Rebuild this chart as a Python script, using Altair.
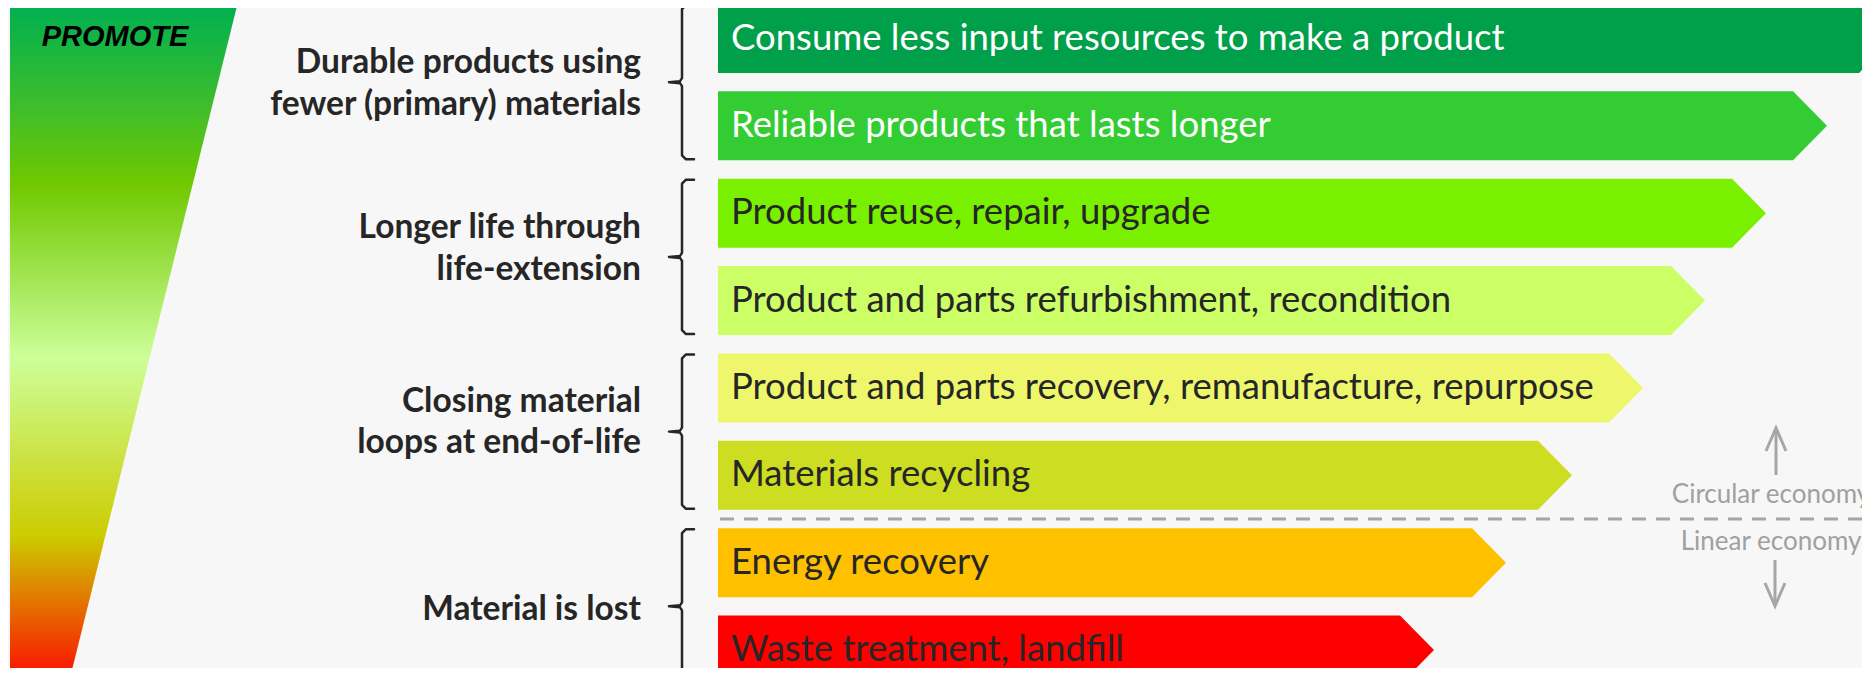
import altair as alt
import pandas as pd

# ---------------- data ----------------
categories = [
    "Consume less input resources to make a product",
    "Reliable products that lasts longer",
    "Product reuse, repair, upgrade",
    "Product and parts refurbishment, recondition",
    "Product and parts recovery, remanufacture, repurpose",
    "Materials recycling",
    "Energy recovery",
    "Waste treatment, landfill",
]
bar_lengths = [1141, 1075, 1014, 953, 891, 820, 754, 682]
bar_colors = ["#00A04A", "#33CC33", "#78F000", "#CCFF66",
              "#EEF76C", "#CCDD22", "#FFC000", "#FF0000"]
text_colors = ["#FFFFFF", "#FFFFFF", "#262626", "#262626",
               "#262626", "#262626", "#262626", "#262626"]

group_label_lines = [
    ["Durable products using", "fewer (primary) materials"],
    ["Longer life through", "life-extension"],
    ["Closing material", "loops at end-of-life"],
    ["Material is lost"],
]
group_rows = [(0, 1), (2, 3), (4, 5), (6, 7)]

economy_labels = ["Circular economy", "Linear economy"]
promote_label = "PROMOTE"

gradient_offsets = [0.0, 0.15, 0.26, 0.514, 0.775, 0.86, 1.0]
gradient_colors = ["#00B050", "#3FBE2A", "#70C800", "#CCFF99",
                   "#CCCC00", "#E07F00", "#FF0000"]

# ---------------- layout ----------------
W, H = 1854, 660
X_DOM = [8, 8 + W]
Y_DOM = [8, 8 + H]
BAR_X0 = 718
ROW0 = 38.5
PITCH = 87.36
BAR_H = 69
TIP = 34
TEXT_X = 731
LABEL_X = 641
LABEL_LINE_Y = [[63, 105], [228, 270], [402, 443], [610]]
BRACE_X, BRACE_TICK, BRACE_HOOK = 682, 669, 694
DIV_Y, DIV_X0, DIV_X1 = 519, 720, 1880
ARROW_X = 1776
ECO_X = 1771

xs = alt.Scale(domain=X_DOM, zero=False, nice=False)
ys = alt.Scale(domain=Y_DOM, zero=False, nice=False, reverse=True)
X = lambda f: alt.X(f, type="quantitative", scale=xs, axis=None)
Y = lambda f: alt.Y(f, type="quantitative", scale=ys, axis=None, stack=None)

# arrows (bars)
rows = []
for i, (c, L) in enumerate(zip(categories, bar_lengths)):
    yc = ROW0 + i * PITCH
    top, bot = yc - BAR_H / 2, yc + BAR_H / 2
    xe = BAR_X0 + L
    rows += [
        dict(cat=c, x=BAR_X0, y=top, y2=bot),
        dict(cat=c, x=xe, y=top, y2=bot),
        dict(cat=c, x=xe + TIP, y=yc, y2=yc),
    ]
bars_df = pd.DataFrame(rows)

bars = alt.Chart(bars_df).mark_area(interpolate="linear").encode(
    x=X("x"), y=Y("y"), y2="y2",
    color=alt.Color("cat:N", scale=alt.Scale(domain=categories, range=bar_colors), legend=None),
    detail="cat:N",
)

text_df = pd.DataFrame({
    "cat": categories,
    "x": [TEXT_X] * len(categories),
    "y": [ROW0 + i * PITCH for i in range(len(categories))],
    "tc": text_colors,
})
bar_text = alt.Chart(text_df).mark_text(
    align="left", baseline="middle", font="Lato", fontSize=36.5
).encode(x=X("x"), y=Y("y"), text="cat:N", color=alt.Color("tc:N", scale=None))

# gradient trapezoid
grad_df = pd.DataFrame({"y": [6, 690], "x": [10, 10], "x2": [237, 67]})
grad = alt.Chart(grad_df).mark_area(
    orient="horizontal",
    color=alt.Gradient(
        gradient="linear",
        stops=[alt.GradientStop(offset=o, color=c) for o, c in zip(gradient_offsets, gradient_colors)],
        x1=0, x2=0, y1=0, y2=1,
    ),
).encode(y=Y("y"), x=X("x"), x2="x2")

promote = alt.Chart(pd.DataFrame({"t": [promote_label], "x": [115], "y": [37]})).mark_text(
    font="Liberation Sans", fontStyle="italic", fontWeight="bold", fontSize=29,
    align="center", baseline="middle", color="#000000",
).encode(x=X("x"), y=Y("y"), text="t:N")

# group labels (one row per line)
glab_rows = []
for lines, ys_ in zip(group_label_lines, LABEL_LINE_Y):
    for t, yy in zip(lines, ys_):
        glab_rows.append(dict(t=t, x=LABEL_X, y=yy))
glab = alt.Chart(pd.DataFrame(glab_rows)).mark_text(
    align="right", baseline="middle", font="Lato", fontWeight="bold",
    fontSize=33.5, color="#262626",
).encode(x=X("x"), y=Y("y"), text="t:N")

# braces
brows = []
for g, (a, b) in enumerate(group_rows):
    top = ROW0 + a * PITCH - BAR_H / 2 + 1
    bot = ROW0 + b * PITCH + BAR_H / 2 - 1
    if g == 3:
        bot = 700
    mid = (ROW0 + a * PITCH - BAR_H / 2 + ROW0 + b * PITCH + BAR_H / 2) / 2
    pts = [
        (BRACE_HOOK, top), (BRACE_X + 4, top), (BRACE_X, top + 4),
        (BRACE_X, mid - 4), (BRACE_X - 2, mid - 1), (BRACE_TICK, mid),
        (BRACE_X - 2, mid + 1), (BRACE_X, mid + 4),
        (BRACE_X, bot - 4), (BRACE_X + 4, bot), (BRACE_HOOK, bot),
    ]
    for k, (px, py) in enumerate(pts):
        brows.append(dict(g=g, k=k, x=px, y=py))
braces = alt.Chart(pd.DataFrame(brows)).mark_line(
    color="#262626", strokeWidth=2.5, strokeJoin="round", strokeCap="round"
).encode(x=X("x"), y=Y("y"), detail="g:N", order="k:Q")

# divider
divider = alt.Chart(pd.DataFrame({"x": [DIV_X0], "x2": [DIV_X1], "y": [DIV_Y]})).mark_rule(
    color="#A6A6A6", strokeWidth=3, strokeDash=[14, 10]
).encode(x=X("x"), x2="x2", y=Y("y"))

# economy arrows
arows = []
up = [(ARROW_X, 475), (ARROW_X, 428)]
uph = [(ARROW_X - 10, 451), (ARROW_X, 428), (ARROW_X + 10, 451)]
dn = [(ARROW_X - 1, 560), (ARROW_X - 1, 606)]
dnh = [(ARROW_X - 11, 583), (ARROW_X - 1, 606), (ARROW_X + 9, 583)]
for g, pts in enumerate([up, uph, dn, dnh]):
    for k, (px, py) in enumerate(pts):
        arows.append(dict(g=g, k=k, x=px, y=py))
arrows = alt.Chart(pd.DataFrame(arows)).mark_line(
    color="#A6A6A6", strokeWidth=3, strokeJoin="miter"
).encode(x=X("x"), y=Y("y"), detail="g:N", order="k:Q")

eco = alt.Chart(pd.DataFrame({"t": economy_labels, "x": [ECO_X, ECO_X], "y": [495, 542]})).mark_text(
    font="Lato", fontSize=26, align="center", baseline="middle", color="#A0A0A0"
).encode(x=X("x"), y=Y("y"), text="t:N")

chart = alt.layer(grad, promote, braces, glab, divider, bars, bar_text, arrows, eco).properties(
    width=W, height=H, padding=0, autosize=alt.AutoSizeParams(type="none"),
    background="#F7F7F7",
).configure_view(stroke=None)

chart.save("out.html", embed_options={"renderer": "svg", "actions": False})
